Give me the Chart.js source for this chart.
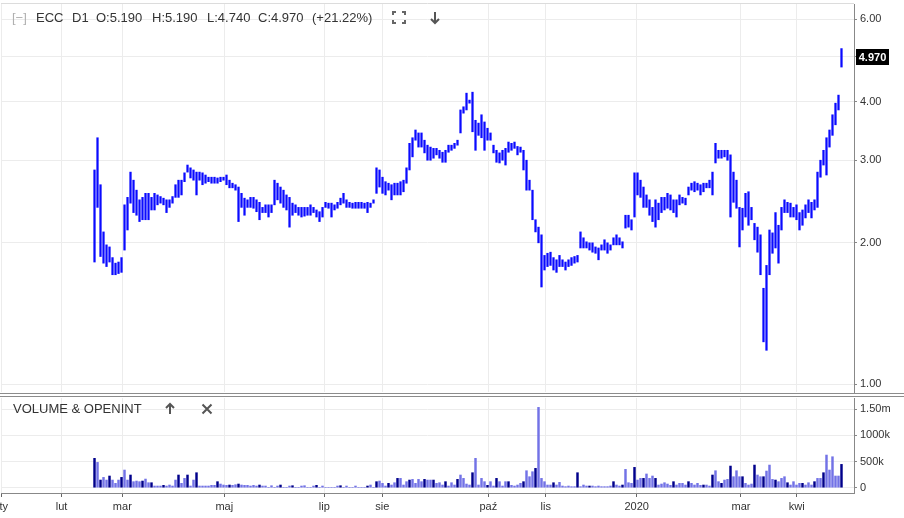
<!DOCTYPE html>
<html>
<head>
<meta charset="utf-8">
<script src="https://cdn.jsdelivr.net/npm/chart.js@4.4.1/dist/chart.umd.min.js"></script>
<style>
html, body { margin: 0; padding: 0; background: #fff; }
#wrap { position: relative; width: 904px; height: 518px; overflow: hidden; font-family: "Liberation Sans", Arial, sans-serif; color: #333; }
canvas { position: absolute; left: 0; }
#priceChart { top: 0; }
#volChart { top: 393px; }
.txt { position: absolute; font-size: 13px; line-height: 16px; white-space: nowrap; }
.sep { position: absolute; left: 0; width: 904px; height: 1px; background: #8c8c8c; }
svg { position: absolute; }
</style>
</head>
<body>
<div id="wrap">
  <canvas id="priceChart" width="904" height="393"></canvas>
  <canvas id="volChart" width="904" height="125"></canvas>
  <div class="sep" style="top:393px"></div>
  <div class="sep" style="top:396px"></div>
  <div id="header"></div>
  <div class="txt" style="left:13px;top:401px">VOLUME &amp; OPENINT</div>
  <svg style="left:164px;top:402px" width="12" height="13"><path d="M6 12V2M2 6L6 2L10 6" stroke="#555" stroke-width="2" fill="none"/></svg>
  <svg style="left:201px;top:403px" width="12" height="12"><path d="M1.5 1.5L10.5 10.5M10.5 1.5L1.5 10.5" stroke="#555" stroke-width="2" fill="none"/></svg>
  <svg style="left:392px;top:11px" width="14" height="13"><path d="M1 4V1H4M10 1H13V4M13 9V12H10M4 12H1V9" stroke="#666" stroke-width="2" fill="none"/></svg>
  <svg style="left:429px;top:11px" width="12" height="14"><path d="M6 1V12M2 8L6 12L10 8" stroke="#555" stroke-width="2" fill="none"/></svg>
</div>
<script>
// ECC, daily bars, Feb 2019 - Apr 2020 (one slot ~ one 3px column of the original)
const highs = [
  2.86,3.35,2.66,2.11,1.98,1.96,1.86,1.81,1.82,1.86,
  2.41,2.50,2.83,2.72,2.59,2.47,2.50,2.55,2.55,2.50,
  2.55,2.53,2.51,2.49,2.47,2.47,2.51,2.66,2.72,2.72,
  2.82,2.93,2.89,2.86,2.83,2.83,2.82,2.79,2.76,2.76,
  2.76,2.75,2.76,2.76,2.79,2.72,2.68,2.66,2.63,2.55,
  2.49,2.47,2.50,2.50,2.47,2.44,2.38,2.41,2.41,2.41,
  2.72,2.68,2.63,2.59,2.53,2.50,2.43,2.41,2.38,2.38,
  2.38,2.38,2.41,2.38,2.35,2.33,2.38,2.44,2.43,2.43,
  2.41,2.44,2.49,2.55,2.47,2.44,2.43,2.44,2.44,2.44,
  2.43,2.44,2.43,2.47,2.89,2.86,2.76,2.70,2.68,2.66,
  2.68,2.68,2.70,2.72,2.89,3.26,3.35,3.48,3.43,3.43,
  3.31,3.23,3.20,3.18,3.18,3.15,3.12,3.15,3.23,3.23,
  3.26,3.31,3.84,3.90,4.17,4.03,4.19,3.65,3.60,3.75,
  3.62,3.51,3.43,3.23,3.15,3.11,3.15,3.18,3.28,3.26,
  3.28,3.21,3.20,3.15,3.00,2.72,2.59,2.24,2.16,2.08,
  1.88,1.90,1.91,1.86,1.84,1.88,1.84,1.82,1.84,1.86,
  1.87,1.88,2.11,2.05,2.01,2.00,2.00,1.96,1.95,1.98,
  2.03,2.00,1.98,2.05,2.08,2.05,2.01,2.29,2.29,2.24,
  2.82,2.82,2.72,2.63,2.53,2.47,2.38,2.47,2.43,2.50,
  2.50,2.55,2.53,2.47,2.47,2.53,2.50,2.49,2.63,2.68,
  2.70,2.68,2.66,2.68,2.68,2.72,2.83,3.26,3.15,3.15,
  3.15,3.15,3.08,2.83,2.72,2.38,2.37,2.55,2.57,2.38,
  2.20,2.16,2.08,1.60,1.79,2.13,2.10,2.32,2.18,2.38,
  2.47,2.44,2.43,2.38,2.41,2.32,2.35,2.41,2.47,2.44,
  2.47,2.83,3.00,3.15,3.35,3.48,3.75,3.97,4.13,5.19
];
const lows = [
  1.82,2.38,1.87,1.81,1.78,1.82,1.71,1.71,1.72,1.73,
  1.93,2.13,2.43,2.32,2.29,2.22,2.24,2.24,2.24,2.35,
  2.35,2.41,2.43,2.41,2.32,2.38,2.43,2.50,2.50,2.53,
  2.70,2.83,2.75,2.72,2.53,2.72,2.66,2.68,2.70,2.68,
  2.68,2.68,2.70,2.72,2.66,2.62,2.62,2.59,2.22,2.38,
  2.29,2.38,2.38,2.37,2.33,2.24,2.32,2.32,2.27,2.32,
  2.41,2.47,2.43,2.38,2.35,2.16,2.29,2.32,2.29,2.27,
  2.28,2.29,2.29,2.32,2.27,2.22,2.27,2.38,2.37,2.27,
  2.35,2.37,2.41,2.43,2.38,2.38,2.37,2.37,2.37,2.37,
  2.37,2.32,2.38,2.43,2.55,2.63,2.55,2.53,2.59,2.47,
  2.53,2.53,2.53,2.57,2.68,2.86,3.05,3.31,3.20,3.20,
  3.11,3.00,3.00,3.03,3.08,3.03,2.97,2.97,3.12,3.15,
  3.18,3.23,3.43,3.78,3.84,3.97,3.45,3.15,3.39,3.35,
  3.15,3.31,3.31,3.11,2.97,2.96,3.00,2.93,3.12,3.15,
  3.18,3.08,3.12,2.86,2.59,2.59,2.24,2.11,2.00,1.61,
  1.75,1.78,1.79,1.75,1.73,1.78,1.78,1.75,1.78,1.79,
  1.81,1.82,1.95,1.95,1.95,1.93,1.91,1.90,1.84,1.93,
  1.93,1.90,1.93,1.98,1.98,1.98,1.95,2.15,2.16,2.13,
  2.27,2.53,2.50,2.38,2.38,2.29,2.22,2.16,2.24,2.32,
  2.35,2.37,2.35,2.32,2.27,2.41,2.43,2.41,2.53,2.59,
  2.57,2.59,2.53,2.57,2.62,2.62,2.53,2.96,3.03,3.03,
  3.05,3.00,2.27,2.44,2.37,1.96,2.13,2.27,2.18,2.24,
  2.03,1.91,1.71,1.23,1.18,1.71,1.90,1.95,1.81,2.13,
  2.32,2.32,2.27,2.27,2.24,2.13,2.18,2.26,2.32,2.26,
  2.35,2.38,2.76,2.93,2.79,3.20,3.39,3.57,3.84,4.74
];
// volume in thousands of shares
const volumes = [
  560,483,146,197,146,223,146,83,146,197,
  337,146,242,115,127,115,127,165,95,95,
  32,32,32,45,32,51,32,146,242,83,
  178,242,32,146,286,32,32,32,32,45,
  45,115,70,51,45,51,45,57,70,51,
  45,45,32,45,32,51,32,32,0,38,
  0,32,51,0,0,32,38,0,0,32,
  38,0,0,32,45,0,32,0,0,0,
  0,32,38,0,32,0,0,32,0,0,
  0,32,51,0,115,127,83,32,83,51,
  95,178,178,51,115,146,159,83,159,115,
  159,146,146,146,83,95,51,115,32,95,
  51,159,242,178,70,51,286,560,51,178,
  115,45,115,32,178,115,32,115,115,45,
  32,51,83,115,324,210,305,369,1533,178,
  115,51,51,95,51,102,32,20,32,20,
  20,286,20,51,32,32,32,20,32,20,
  20,20,32,115,51,32,51,350,95,83,
  388,146,178,178,262,178,223,178,51,70,
  95,70,45,115,51,83,83,51,115,83,
  51,83,45,51,51,32,242,324,115,83,
  146,159,413,210,324,210,210,83,51,70,
  432,242,210,210,318,432,159,146,115,178,
  210,95,51,115,51,83,83,51,95,51,
  115,178,178,286,623,337,591,223,223,445
];
const downDays = [0,2,5,9,12,16,19,23,28,31,34,41,45,48,55,62,66,74,82,91,94,98,101,105,110,113,117,121,126,131,134,138,143,147,153,161,165,173,176,180,183,187,193,198,203,206,209,212,216,220,223,227,231,236,240,243,249];

const monthLabels = ['sty','lut','mar','maj','lip','sie','paź','lis','2020','mar','kwi'];
const monthSlots = [-31.17,-11,9.27,43.27,76.6,95.93,131.27,150.4,180.73,215.5,234.07];
const priceTicks = [1,2,3,4,5,6];
const volTicks = [0,500000,1000000,1500000];
const volTickLabels = ['0','500k','1000k','1.50m'];
const lastBar = { symbol:'ECC', tf:'D1', open:5.19, high:5.19, low:4.74, close:4.97, change:21.22 };

// header
const hdr = [
  ['[−]', 12, '#b0b0b0'],
  [lastBar.symbol, 36],
  [lastBar.tf, 72],
  ['O:' + lastBar.open.toFixed(3), 96],
  ['H:' + lastBar.high.toFixed(3), 152],
  ['L:' + lastBar.low.toFixed(3), 207],
  ['C:' + lastBar.close.toFixed(3), 258],
  ['(+' + lastBar.change.toFixed(2) + '%)', 312]
];
const header = document.getElementById('header');
hdr.forEach(([t, x, c]) => {
  const d = document.createElement('div');
  d.className = 'txt';
  d.style.left = x + 'px';
  d.style.top = '10px';
  if (c) d.style.color = c;
  d.textContent = t;
  header.appendChild(d);
});

Chart.defaults.font.family = '"Liberation Sans", Arial, sans-serif';
Chart.defaults.font.size = 11;
Chart.defaults.color = '#333';

const gridColor = '#ececec';
const xMin = -31.17, xMax = 253.17;

function xAxis(showLabels) {
  return {
    type: 'linear',
    min: xMin,
    max: xMax,
    offset: false,
    afterBuildTicks: s => { s.ticks = monthSlots.map(v => ({ value: v })); },
    afterFit: s => { s.height = showLabels ? 25 : 0; s.paddingLeft = 0; s.paddingRight = 0; },
    grid: { color: gridColor, offset: false, drawTicks: showLabels, tickLength: 4, tickColor: '#666' },
    border: { display: showLabels, color: '#888' },
    ticks: {
      display: showLabels,
      autoSkip: false,
      maxRotation: 0,
      padding: 3,
      callback: (v, i) => monthLabels[i]
    }
  };
}

const topFrame = {
  id: 'topFrame',
  beforeDatasetsDraw(chart) {
    const a = chart.chartArea, ctx = chart.ctx;
    ctx.save();
    ctx.strokeStyle = '#dcdcdc';
    ctx.lineWidth = 1;
    ctx.beginPath();
    ctx.moveTo(a.left, a.top - 0.5);
    ctx.lineTo(a.right, a.top - 0.5);
    ctx.stroke();
    ctx.restore();
  }
};

const priceTag = {
  id: 'priceTag',
  afterDraw(chart) {
    const y = Math.round(chart.scales.y.getPixelForValue(lastBar.close));
    const x = chart.chartArea.right + 2;
    const ctx = chart.ctx;
    ctx.save();
    ctx.fillStyle = '#000';
    ctx.fillRect(x, y - 8, 33, 16);
    ctx.fillStyle = '#fff';
    ctx.font = 'bold 11px "Liberation Sans", Arial, sans-serif';
    ctx.textBaseline = 'middle';
    ctx.textAlign = 'center';
    ctx.fillText(lastBar.close.toFixed(3), x + 16.5, y + 0.5);
    ctx.restore();
  }
};

new Chart(document.getElementById('priceChart'), {
  type: 'bar',
  data: {
    datasets: [{
      data: highs.map((h, i) => ({ x: i, y: [lows[i], h] })),
      backgroundColor: '#0a0aff',
      borderWidth: 0,
      barThickness: 1.6
    }]
  },
  options: {
    responsive: false,
    animation: false,
    events: [],
    layout: { padding: { top: 4, bottom: 1, left: 1, right: 0 } },
    plugins: { legend: { display: false }, tooltip: { enabled: false } },
    scales: {
      x: xAxis(false),
      y: {
        type: 'logarithmic',
        position: 'right',
        min: 0.9615,
        max: 6.46,
        afterBuildTicks: s => { s.ticks = priceTicks.map(v => ({ value: v })); },
        afterFit: s => { s.width = 50; s.paddingTop = 0; s.paddingBottom = 0; },
        grid: { color: gridColor, tickLength: 3, tickColor: '#888' },
        border: { color: '#888' },
        ticks: { padding: 3, callback: v => Number(v).toFixed(2) }
      }
    }
  },
  plugins: [topFrame, priceTag]
});

new Chart(document.getElementById('volChart'), {
  type: 'bar',
  data: {
    datasets: [{
      data: volumes.map((v, i) => ({ x: i, y: v * 1000 })),
      backgroundColor: volumes.map((v, i) => downDays.includes(i) ? '#00008b' : '#7272e6'),
      borderWidth: 0,
      barThickness: 1.8
    }]
  },
  options: {
    responsive: false,
    animation: false,
    events: [],
    layout: { padding: { top: 5, bottom: 0, left: 1, right: 0 } },
    plugins: { legend: { display: false }, tooltip: { enabled: false } },
    scales: {
      x: xAxis(true),
      y: {
        type: 'linear',
        position: 'right',
        min: -101145,
        max: 1711832,
        afterBuildTicks: s => { s.ticks = volTicks.map(v => ({ value: v })); },
        afterFit: s => { s.width = 50; s.paddingTop = 0; s.paddingBottom = 0; },
        grid: { color: gridColor, tickLength: 3, tickColor: '#888' },
        border: { color: '#888' },
        ticks: { padding: 3, callback: (v, i) => volTickLabels[i] }
      }
    }
  }
});
</script>
</body>
</html>
